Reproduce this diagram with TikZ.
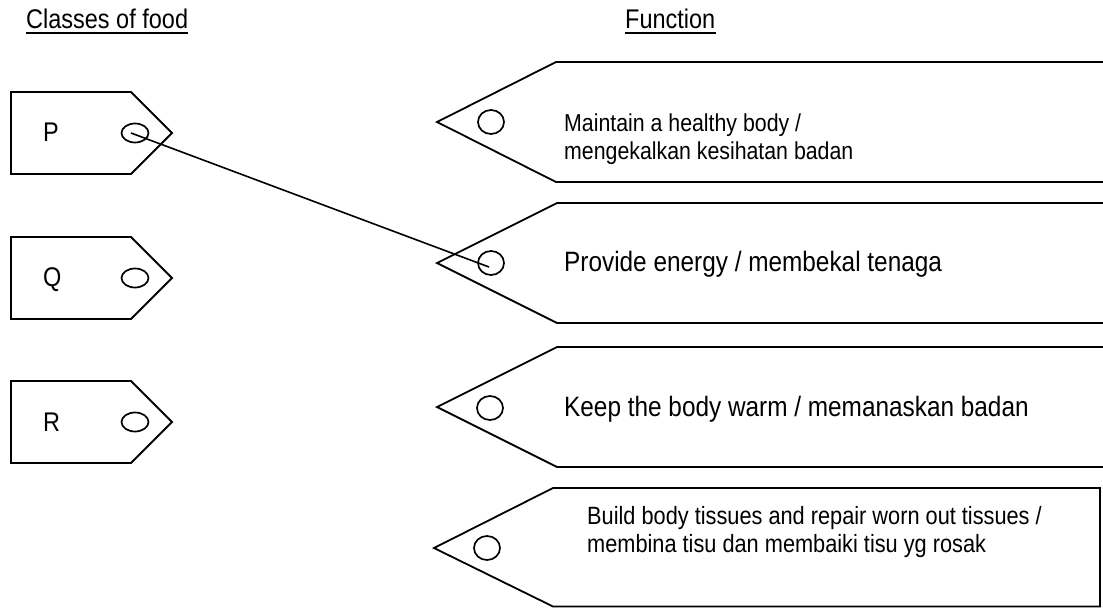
\documentclass[tikz,border=0pt]{standalone}
\usepackage{fontspec}
\setmainfont{Liberation Sans}[FakeStretch=0.87]
\tikzset{
  tagline/.style={draw=black, line width=1.8pt, line join=miter},
  holeline/.style={draw=black, line width=1.7pt},
  txt/.style={inner sep=0pt, anchor=base west, align=left},
  head/.style={txt, font=\fontsize{27}{30}\selectfont},
  link/.style={draw=black, line width=1.6pt},
}
\begin{document}
\begin{tikzpicture}[x=1pt, y=-1pt]
\useasboundingbox (0,0) rectangle (1103,608);
\clip (0,0) rectangle (1103,608);
% headers
\node[head] (hClass) at (26,28) {Classes of food};
\node[head] (hFunc) at (625,28) {Function};
\draw[line width=2.2pt] ([yshift=-5pt]hClass.base west) -- ([yshift=-5pt]hClass.base east);
\draw[line width=2.2pt] ([yshift=-5pt]hFunc.base west) -- ([yshift=-5pt]hFunc.base east);
% left tags
\draw[tagline] (11,92) -- (131,92) -- (172,133) -- (131,174) -- (11,174) -- cycle;
\draw[tagline] (11,237) -- (131,237) -- (172,278) -- (131,319) -- (11,319) -- cycle;
\draw[tagline] (11,381) -- (131,381) -- (172,422) -- (131,463) -- (11,463) -- cycle;
\node[txt, font=\fontsize{27}{30}\selectfont] (lP) at (43,141) {P};
\node[txt, font=\fontsize{27}{30}\selectfont] (lQ) at (43,286) {Q};
\node[txt, font=\fontsize{27}{30}\selectfont] (lR) at (43,431) {R};
\coordinate (cP) at (135,133);
\coordinate (cQ) at (135,278);
\coordinate (cR) at (135,422);
\foreach \c in {cP,cQ,cR} \draw[holeline] (\c) ellipse [x radius=13.5, y radius=9.5];
% right tags
\draw[tagline] (1110,62) -- (556,62) -- (437,122) -- (556,182) -- (1110,182);
\draw[tagline] (1110,203) -- (557,203) -- (437,263) -- (557,323) -- (1110,323);
\draw[tagline] (1110,347) -- (557,347) -- (437,407) -- (557,467) -- (1110,467);
\draw[tagline] (1100,488) -- (553,488) -- (434,548) -- (553,606.5) -- (1100,606.5) -- cycle;
\coordinate (c1) at (491,122);
\coordinate (c2) at (491,263);
\coordinate (c3) at (490,408);
\coordinate (c4) at (487,548);
\foreach \c in {c1,c2,c3,c4} \draw[holeline] (\c) ellipse [x radius=13, y radius=12];
\node[txt, anchor=west, font=\fontsize{24.5}{28}\selectfont] (t1) at (564,139) {Maintain a healthy body /\\mengekalkan kesihatan badan};
\node[txt, anchor=west, font=\fontsize{28}{32}\selectfont] (t2) at (564,264) {Provide energy / membekal tenaga};
\node[txt, anchor=west, font=\fontsize{28}{32}\selectfont] (t3) at (564,409) {Keep the body warm / memanaskan badan};
\node[txt, anchor=west, font=\fontsize{25}{28}\selectfont] (t4) at (587,532) {Build body tissues and repair worn out tissues /\\membina tisu dan membaiki tisu yg rosak};
% connector
\draw[link] ([xshift=-4pt]cP) -- ([shift={(-2pt,-4pt)}]c2);
\end{tikzpicture}
\end{document}
